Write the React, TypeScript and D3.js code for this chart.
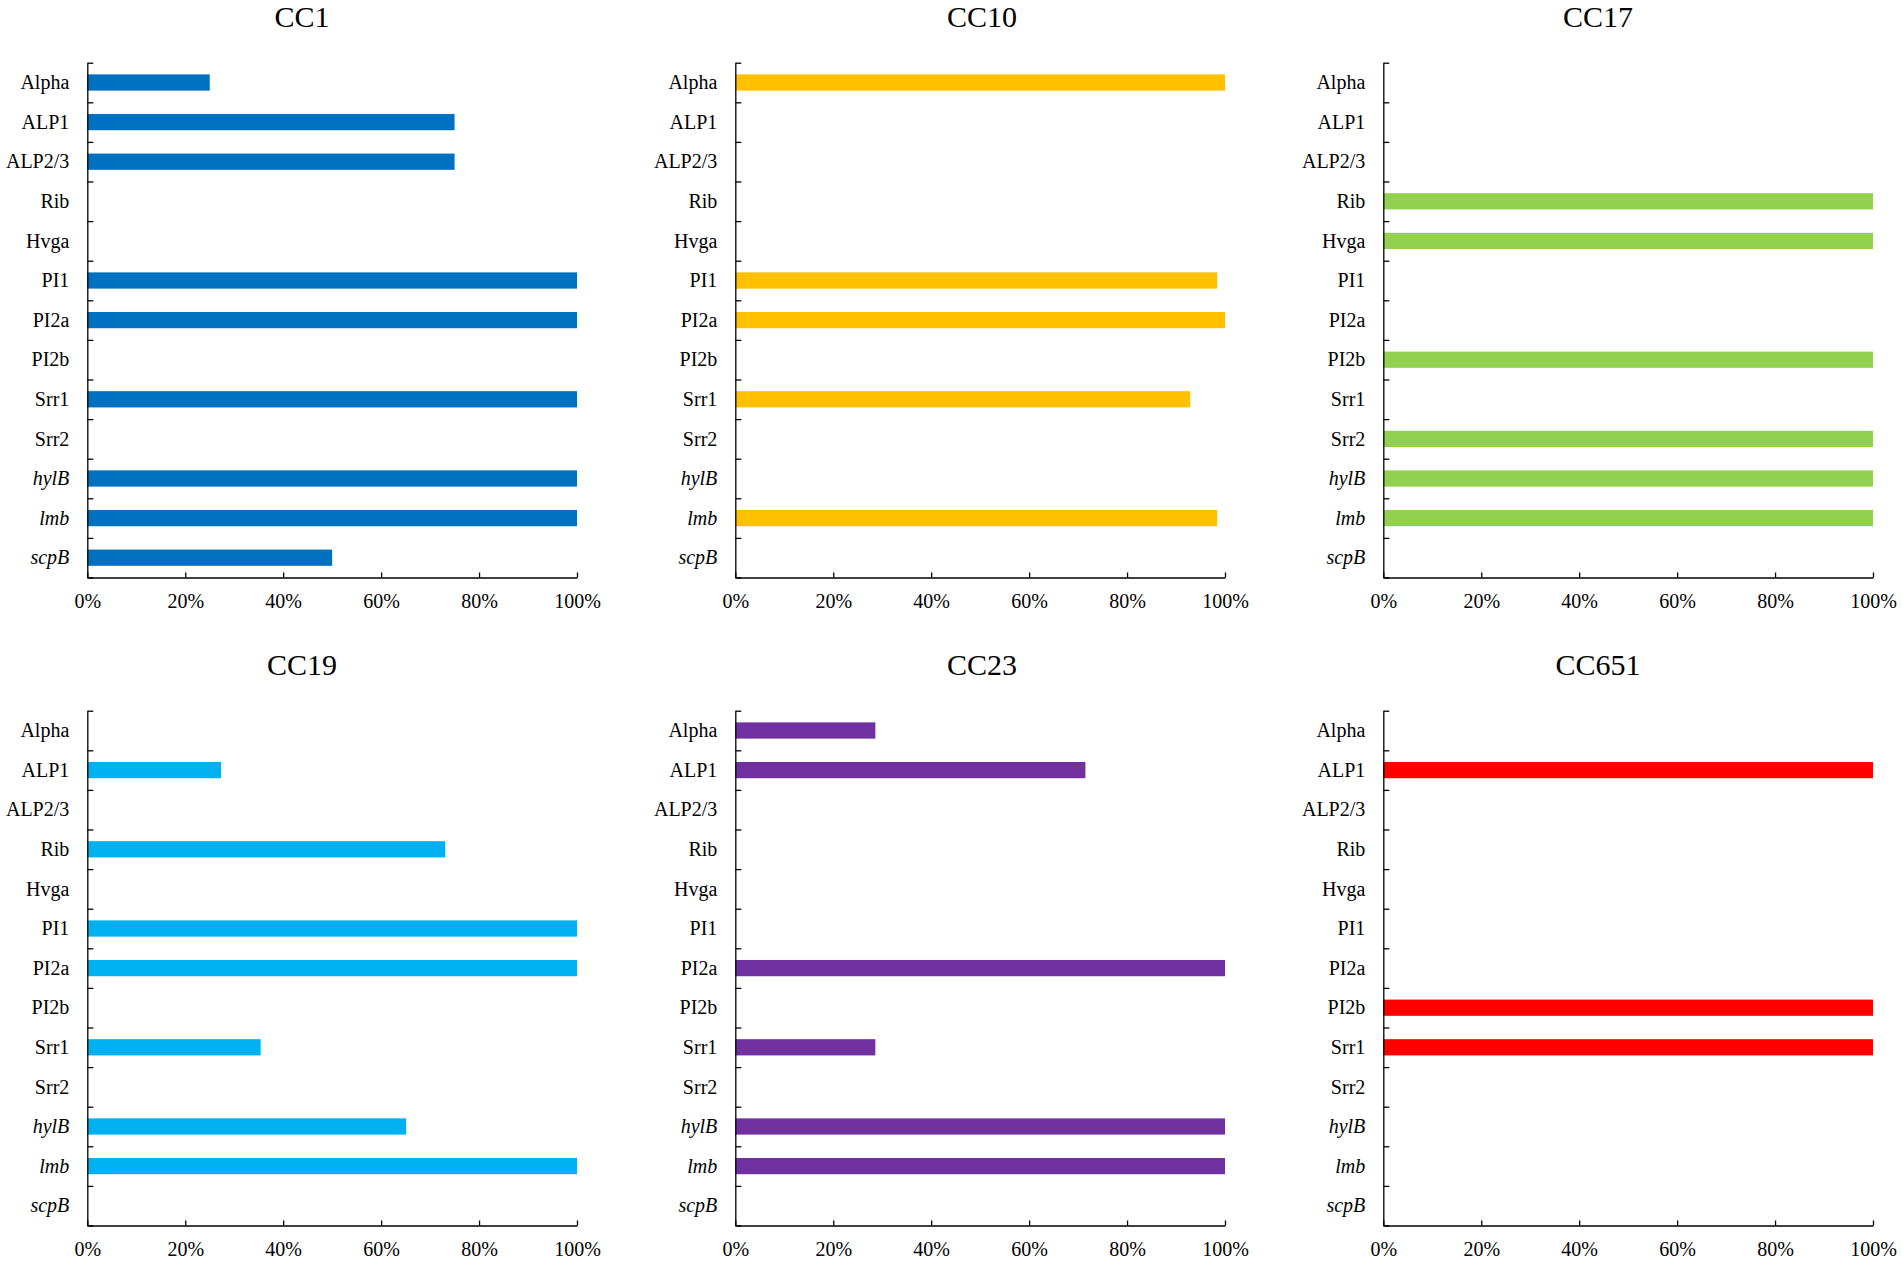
import { useEffect, useRef } from "react";
import * as d3 from "d3";

// gene categories, top to bottom
const genes = ["Alpha", "ALP1", "ALP2/3", "Rib", "Hvga", "PI1", "PI2a", "PI2b", "Srr1", "Srr2", "hylB", "lmb", "scpB"];
const italicGenes = ["hylB", "lmb", "scpB"];

// percentage of isolates carrying each gene
const cc1 = [25, 75, 75, 0, 0, 100, 100, 0, 100, 0, 100, 100, 50];
const cc10 = [100, 0, 0, 0, 0, 98.4, 100, 0, 92.9, 0, 0, 98.4, 0];
const cc17 = [0, 0, 0, 100, 100, 0, 0, 100, 0, 100, 100, 100, 0];
const cc19 = [0, 27.3, 0, 73.1, 0, 100, 100, 0, 35.4, 0, 65.1, 100, 0];
const cc23 = [28.6, 71.5, 0, 0, 0, 0, 100, 0, 28.6, 0, 100, 100, 0];
const cc651 = [0, 100, 0, 0, 0, 0, 0, 100, 100, 0, 0, 0, 0];

const xTicks = [0, 20, 40, 60, 80, 100];

const panels = [
  { title: "CC1", values: cc1, color: "#0070C0" },
  { title: "CC10", values: cc10, color: "#FFC000" },
  { title: "CC17", values: cc17, color: "#92D050" },
  { title: "CC19", values: cc19, color: "#00B0F0" },
  { title: "CC23", values: cc23, color: "#7030A0" },
  { title: "CC651", values: cc651, color: "#FF0000" },
];

const FONT = "'Times New Roman', 'Liberation Serif', serif";

const App = () => {
  const ref = useRef<SVGSVGElement | null>(null);

  useEffect(() => {
    if (!ref.current) return;
    const svg = d3.select(ref.current);
    svg.selectAll("*").remove();

    const step = 648;
    const margin = { top: 62.7, left: 87.3, right: 577, bottom: 577.5 };
    const titleX = [302, 334, 302];

    const x = d3.scaleLinear().domain([0, 100]).range([margin.left, margin.right]);
    const y = d3
      .scaleBand<string>()
      .domain(genes)
      .range([margin.top, margin.bottom])
      .paddingInner(0.59)
      .paddingOuter(0.295);
    const yEdge = d3.scaleLinear().domain([0, genes.length]).range([margin.top, margin.bottom]);

    panels.forEach((p, i) => {
      const col = i % 3;
      const row = Math.floor(i / 3);
      const g = svg.append("g").attr("transform", `translate(${col * step},${row * step})`);

      g.append("text")
        .attr("x", titleX[col])
        .attr("y", 27)
        .attr("text-anchor", "middle")
        .attr("font-family", FONT)
        .attr("font-size", 30)
        .text(p.title);

      const rows = genes.map((name, j) => ({ name, v: p.values[j] })).filter((d) => d.v > 0);

      g.selectAll("rect.bar")
        .data(rows)
        .enter()
        .append("rect")
        .attr("class", "bar")
        .attr("x", x(0))
        .attr("y", (d) => y(d.name) as number)
        .attr("width", (d) => x(d.v) - x(0))
        .attr("height", y.bandwidth())
        .attr("fill", p.color);

      // tick marks on the category boundaries
      const yTicks = g
        .append("g")
        .attr("transform", `translate(${margin.left},0)`)
        .call(
          d3
            .axisLeft(yEdge)
            .tickValues(d3.range(genes.length + 1))
            .tickSizeInner(-6)
            .tickSizeOuter(0)
            .tickFormat(() => "")
        );
      yTicks.selectAll("line, path").attr("stroke", "#000").attr("stroke-width", 1.3);

      const yLabels = g
        .append("g")
        .attr("transform", `translate(${margin.left},0)`)
        .call(d3.axisLeft(y).tickSize(0).tickPadding(18));
      yLabels.select(".domain").remove();
      yLabels
        .selectAll("text")
        .attr("font-family", FONT)
        .attr("font-size", 20)
        .attr("fill", "#000")
        .attr("dy", "0.33em")
        .attr("font-style", (d) => (italicGenes.includes(d as string) ? "italic" : "normal"));

      const xAxis = g
        .append("g")
        .attr("transform", `translate(0,${margin.bottom})`)
        .call(
          d3
            .axisBottom(x)
            .tickValues(xTicks)
            .tickSizeInner(-5)
            .tickSizeOuter(0)
            .tickPadding(16.6)
            .tickFormat((d) => `${d}%`)
        );
      xAxis.selectAll("line, path").attr("stroke", "#000").attr("stroke-width", 1.3);
      xAxis.selectAll("text").attr("font-family", FONT).attr("font-size", 20).attr("fill", "#000");
    });
  }, []);

  return (
    <svg
      ref={ref}
      width={1902}
      height={1263}
      style={{ position: "absolute", left: 0, top: 0, background: "#fff" }}
    />
  );
};

export default App;
